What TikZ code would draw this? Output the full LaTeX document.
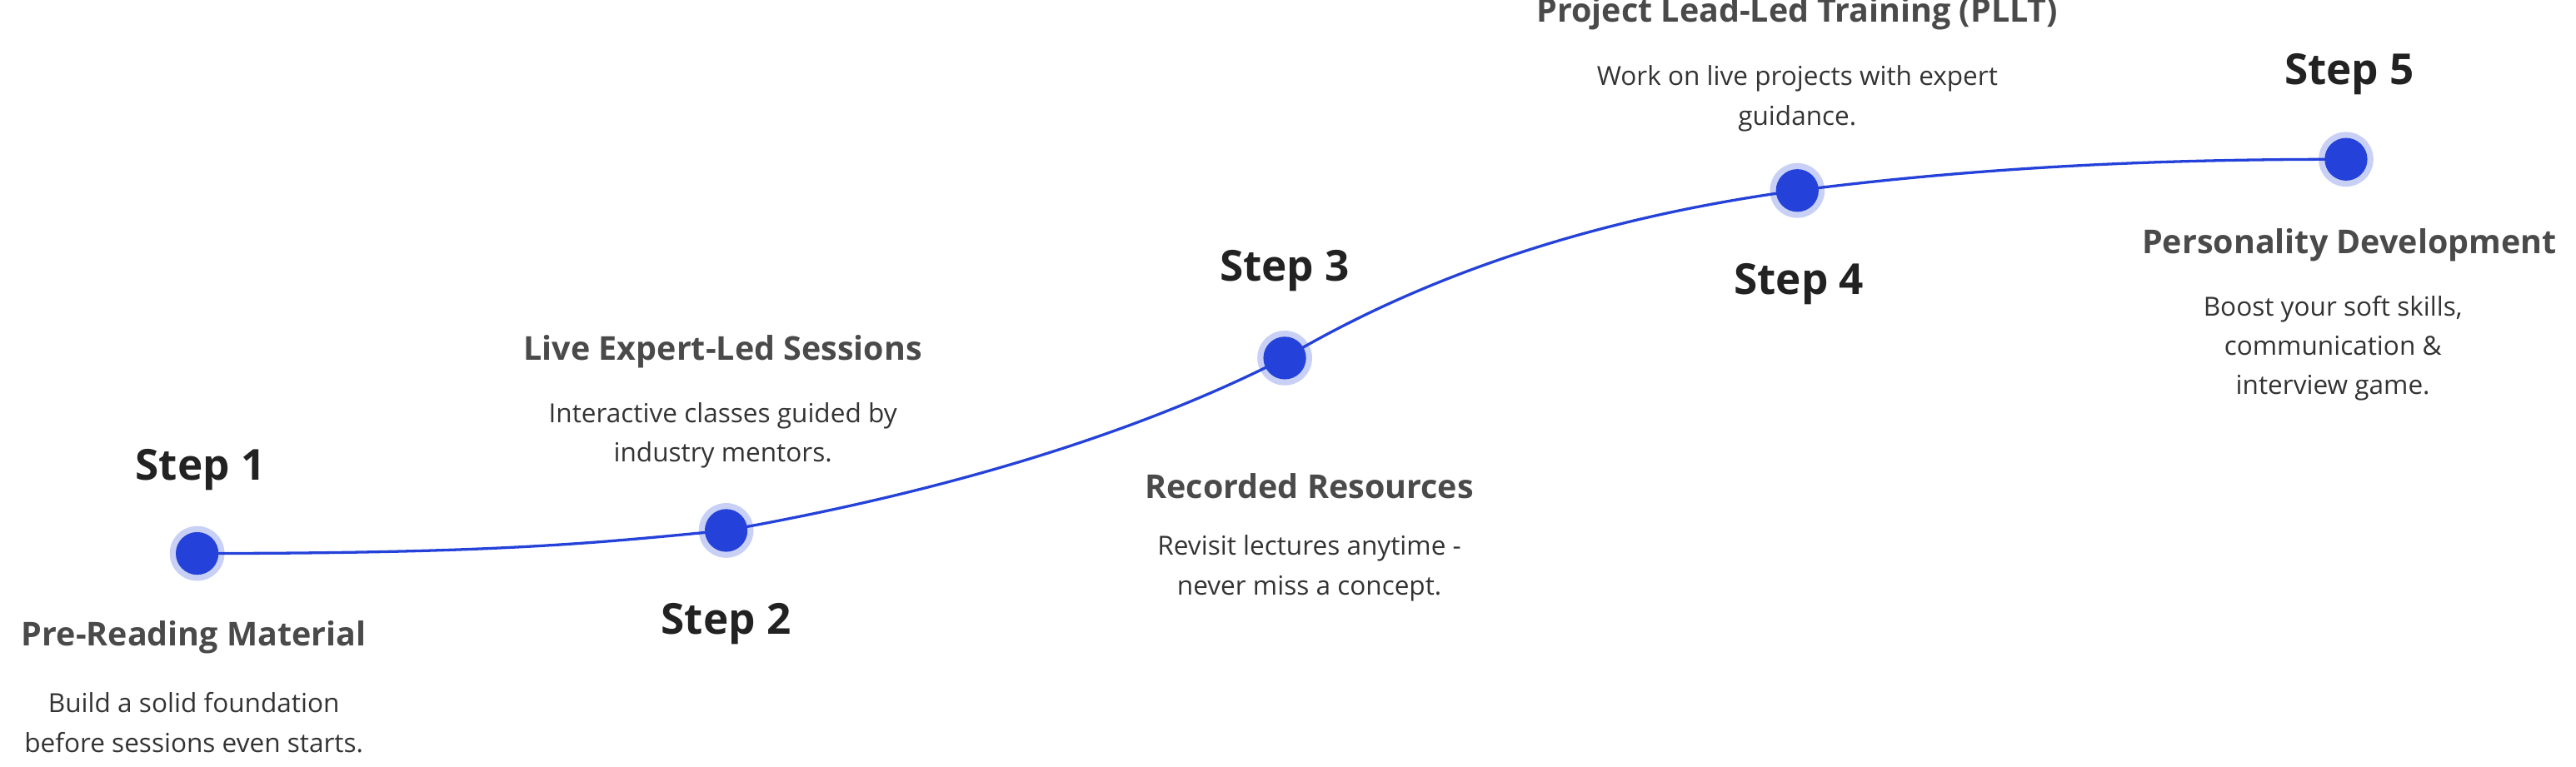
\documentclass[tikz,border=0pt]{standalone}
\usepackage{fontspec}
\setmainfont{Open Sans}
\definecolor{lineblue}{HTML}{2442D9}
\definecolor{stepc}{HTML}{222222}
\definecolor{headc}{HTML}{4A4A4A}
\definecolor{bodyc}{HTML}{333333}
\begin{document}
\begin{tikzpicture}[x=1.5pt,y=-1.5pt,
  dot/.style={circle,fill=lineblue,minimum size=39pt,inner sep=0pt},
  glow/.style={circle,fill=lineblue!25,minimum size=50pt,inner sep=0pt},
  steplbl/.style={font=\fontsize{39}{46}\selectfont\bfseries,text=stepc},
  head/.style={font=\fontsize{30}{36}\selectfont\bfseries,text=headc},
  body/.style={font=\fontsize{24}{36}\selectfont,text=bodyc,align=center}]
\useasboundingbox (0,0) rectangle (1568,467);
\foreach \n/\x/\y in {1/120/337,2/442/323,3/782/218,4/1094/116,5/1428/97}{
  \node[glow] (g\n) at (\x,\y) {};
}
\draw[lineblue,line width=2.5pt] (g1.center) .. controls (300,337) and (360,331) .. (g2.center)
  .. controls (600,295) and (710,255) .. (g3.center)
  .. controls (880,160) and (990,130) .. (g4.center)
  .. controls (1220,100) and (1330,97) .. (g5.center);
\foreach \n in {1,...,5}{ \node[dot] (d\n) at (g\n) {}; }
\node[steplbl] (s1) at (122,286) {Step 1};
\node[head] (h1) at (118,388) {Pre-Reading Material};
\node[body] (b1) at (118,440) {Build a solid foundation\\before sessions even starts.};
\node[steplbl] (s2) at (442,380) {Step 2};
\node[head] (h2) at (440,214) {Live Expert-Led Sessions};
\node[body] (b2) at (440,265) {Interactive classes guided by\\industry mentors.};
\node[steplbl] (s3) at (782,165) {Step 3};
\node[head] (h3) at (797,296) {Recorded Resources};
\node[body] (b3) at (797,346) {Revisit lectures anytime -\\never miss a concept.};
\node[steplbl] (s4) at (1095,173) {Step 4};
\node[head] (h4) at (1094,8) {Project Lead-Led Training (PLLT)};
\node[body] (b4) at (1094,60) {Work on live projects with expert\\guidance.};
\node[steplbl] (s5) at (1430,45) {Step 5};
\node[head] (h5) at (1430,149) {Personality Development};
\node[body] (b5) at (1420,212) {Boost your soft skills,\\communication \&\\interview game.};
\end{tikzpicture}
\end{document}
